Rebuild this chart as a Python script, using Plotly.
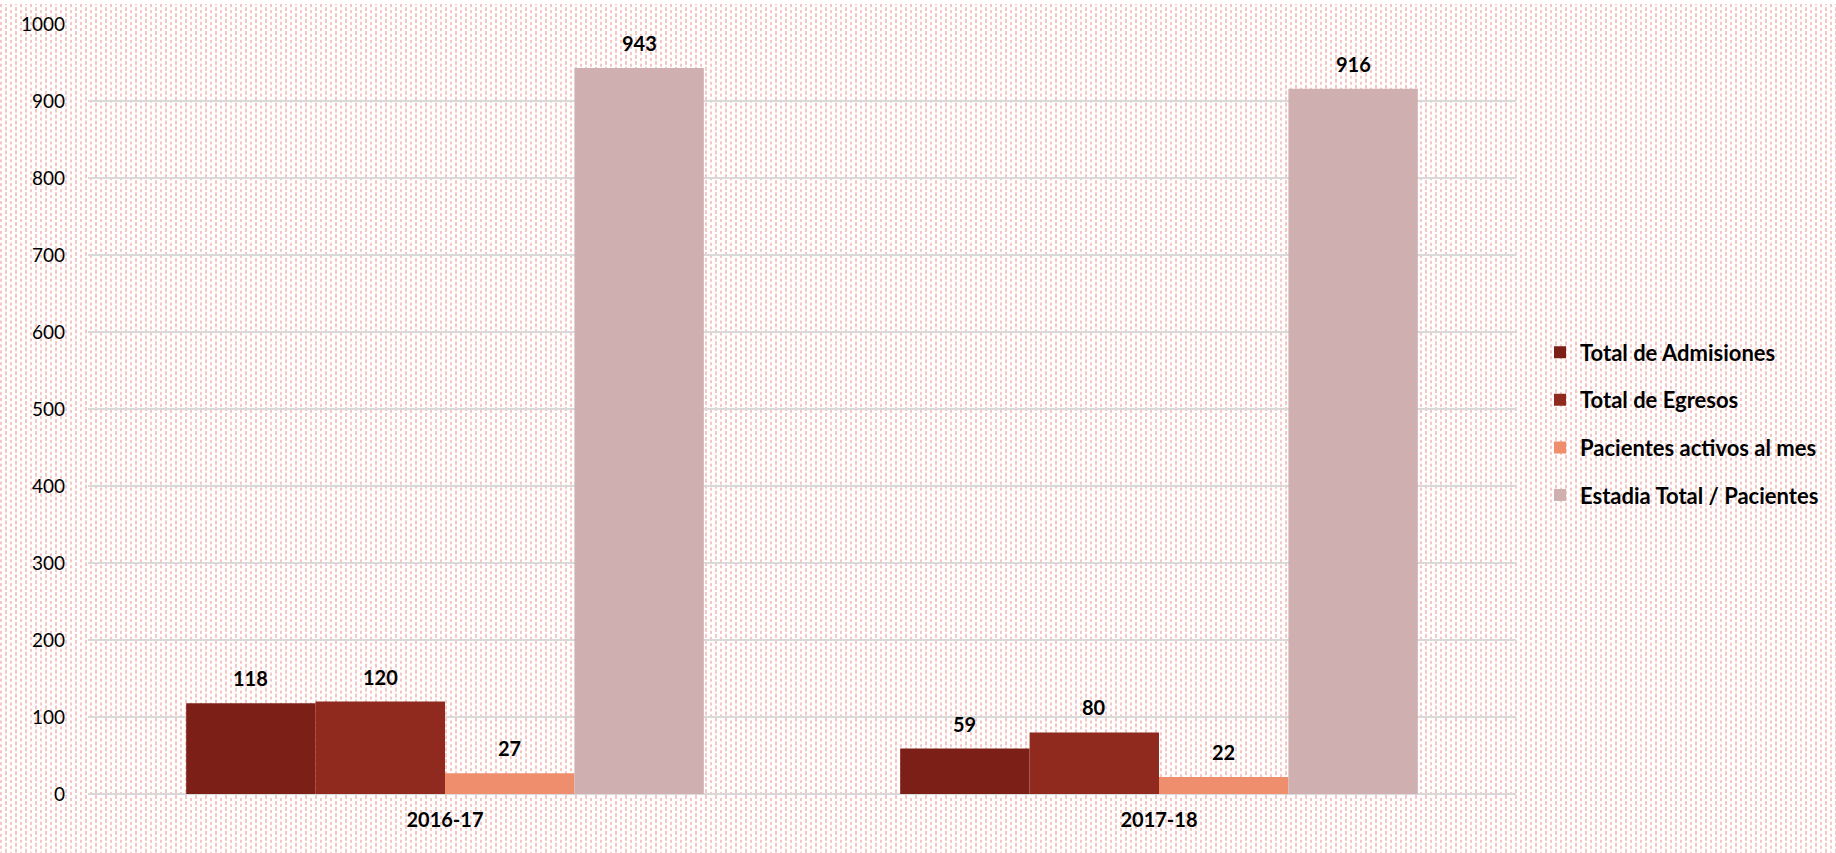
import base64, struct, zlib
import plotly.graph_objects as go

categories = ["2016-17", "2017-18"]
series_names = ["Total de Admisiones", "Total de Egresos", "Pacientes activos al mes", "Estadia Total / Pacientes"]
admisiones = [118, 59]
egresos = [120, 80]
activos = [27, 22]
estadia = [943, 916]
y_ticks = [0, 100, 200, 300, 400, 500, 600, 700, 800, 900, 1000]

series_values = [admisiones, egresos, activos, estadia]
colors = ["#7B1F17", "#912A1E", "#EF8E6C", "#CFAFAF"]

W, H = 1836, 853
L, R, T, B = 88, 320, 20, 59
PW, PH = W - L - R, H - T - B


def make_pattern_png(w, h):
    bg = (255, 255, 255)
    fg = (245, 198, 194)
    cols = [(0, 0, 3), (5, 3, 4)]  # x offset, y phase, dash length
    period_x, period_y = 10, 6
    col_map = {}
    for xo, ph, ln in cols:
        for dx in (0, 1):
            col_map[(xo + dx) % period_x] = (ph, ln)
    rows = []
    for y in range(h):
        row = bytearray(b"\x00")
        for x in range(w):
            c = bg
            k = x % period_x
            if k in col_map:
                ph, ln = col_map[k]
                if (y + ph) % period_y < ln:
                    c = fg
            row.extend(c)
        rows.append(bytes(row))
    raw = b"".join(rows)

    def chunk(tag, data):
        return struct.pack(">I", len(data)) + tag + data + struct.pack(">I", zlib.crc32(tag + data) & 0xffffffff)

    png = b"\x89PNG\r\n\x1a\n"
    png += chunk(b"IHDR", struct.pack(">IIBBBBB", w, h, 8, 2, 0, 0, 0))
    png += chunk(b"IDAT", zlib.compress(raw, 9))
    png += chunk(b"IEND", b"")
    return "data:image/png;base64," + base64.b64encode(png).decode()


FONT = "Lato"
fig = go.Figure()
for name, vals, col in zip(series_names, series_values, colors):
    fig.add_trace(go.Bar(
        name=name, x=categories, y=vals, marker=dict(color=col, line=dict(width=0)),
        legendgroup=name,
    ))

# data labels
bargap = 0.275
n = len(series_names)
bw = (1 - bargap) / n
annotations = []
for i, vals in enumerate(series_values):
    for j, v in enumerate(vals):
        xpos = j - (1 - bargap) / 2 + bw * (i + 0.5)
        annotations.append(dict(
            x=xpos, y=v, xref="x", yref="y", text=f"<b>{v}</b>", showarrow=False,
            yshift=25, font=dict(family=FONT, size=20, color="#000000"),
        ))

fig.update_layout(
    width=W, height=H,
    margin=dict(l=L, r=R, t=T, b=B),
    barmode="group", bargap=bargap, bargroupgap=0,
    paper_bgcolor="#FFFFFF", plot_bgcolor="rgba(0,0,0,0)",
    font=dict(family=FONT, size=18, color="#000000"),
    annotations=annotations,
    images=[dict(
        source=make_pattern_png(W, H), xref="paper", yref="paper",
        x=-L / PW, y=1 + T / PH, sizex=W / PW, sizey=H / PH,
        xanchor="left", yanchor="top", sizing="stretch", layer="below",
    )],
    legend=dict(
        x=(1540 - L) / PW, y=(793 - 421) / PH, xanchor="left", yanchor="middle",
        font=dict(family=FONT, size=22, color="#000000", weight="bold"),
        bgcolor="rgba(0,0,0,0)", tracegroupgap=16,
    ),
    showlegend=True,
)
fig.update_xaxes(
    type="category", showgrid=False, showline=False, ticks="",
    tickfont=dict(family=FONT, size=20, color="#000000", weight="bold"),
    ticklabelstandoff=12,
)
fig.update_yaxes(
    range=[0, 1000], tickvals=y_ticks, showgrid=True, gridcolor="#D9D9D9", gridwidth=1.5,
    zeroline=True, zerolinecolor="#D9D9D9", zerolinewidth=1.5, showline=False, ticks="",
    tickfont=dict(family=FONT, size=19, color="#000000"), ticklabelstandoff=22,
)

fig.write_html(
    "out.html",
    config={"displayModeBar": False},
    post_script="document.body.style.margin='0';document.body.style.overflow='hidden';",
)
